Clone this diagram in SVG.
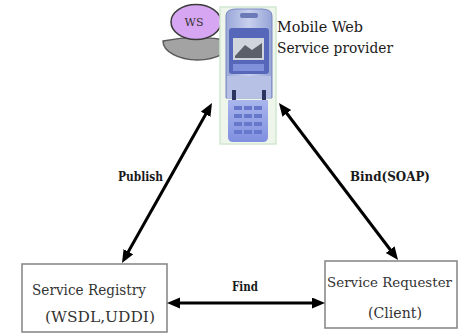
<svg xmlns="http://www.w3.org/2000/svg" width="458" height="333" viewBox="0 0 458 333">
  <style>
    text { font-family: "DejaVu Serif", "Liberation Serif", serif; }
    .lbl { fill: #1a1a1a; }
    .boxlbl { fill: #333; }
    .edge { stroke: #000; stroke-width: 3; fill: none; marker-start: url(#head); marker-end: url(#head); }
    .box { fill: #fff; stroke: #8a8a8a; stroke-width: 1.6; }
  </style>
  <defs>
    <marker id="head" markerUnits="userSpaceOnUse" markerWidth="14" markerHeight="12" refX="3" refY="5.5" orient="auto-start-reverse">
      <path d="M0,0 L13,5.5 L0,11 z" fill="#000"/>
    </marker>
    <linearGradient id="body" x1="0" y1="0" x2="1" y2="0">
      <stop offset="0" stop-color="#9aa8d8"/>
      <stop offset="0.5" stop-color="#c8d0ee"/>
      <stop offset="1" stop-color="#95a3d6"/>
    </linearGradient>
    <linearGradient id="keys" x1="0" y1="0" x2="0" y2="1">
      <stop offset="0" stop-color="#aab6ec"/>
      <stop offset="1" stop-color="#7f8fe0"/>
    </linearGradient>
  </defs>

  <!-- Mobile Web Service provider -->
  <g id="provider">
    <!-- WS disc on its plate -->
    <path d="M163,41 Q197,34 232,41 A34.5,19 0 0 1 163,41 z" fill="#a3a3a3" stroke="#5a5a5a" stroke-width="1.5"/>
    <ellipse cx="196" cy="22" rx="25" ry="17.5" fill="#d6a6f2" stroke="#3a3a3a" stroke-width="1.5"/>
    <text x="194" y="26" font-size="11" text-anchor="middle" fill="#333">WS</text>

    <!-- handset -->
    <rect x="220" y="7" width="56" height="137" fill="#eef6ec" stroke="#d2e8cf" stroke-width="1.5"/>
    <path d="M226,16 Q226,9 236,9 L262,9 Q272,9 272,16 L272,98 L226,98 z" fill="url(#body)" stroke="#7886c2" stroke-width="1"/>
    <rect x="240" y="13" width="18" height="5" rx="2" fill="#6c7ab8"/>
    <rect x="229" y="28" width="40" height="46" rx="3" fill="#5666b8"/>
    <rect x="233" y="38" width="31" height="22" fill="#d0d4dc"/>
    <path d="M235,56 L245,45 L252,50 L262,43 L262,58 L235,58 z" fill="#5a5f6a"/>
    <rect x="233" y="64" width="31" height="7" fill="#8190da"/>
    <rect x="227" y="76" width="44" height="22" fill="#b7c1e6"/>
    <rect x="232" y="90" width="4" height="10" fill="#2c3560"/>
    <rect x="262" y="90" width="4" height="10" fill="#2c3560"/>
    <path d="M228,100 L268,100 L268,137 Q268,142 263,142 L233,142 Q228,142 228,137 z" fill="url(#keys)"/>
    <g fill="#6677cc">
      <rect x="234" y="106" width="8" height="4"/><rect x="244" y="106" width="8" height="4"/><rect x="254" y="106" width="8" height="4"/>
      <rect x="234" y="114" width="8" height="4"/><rect x="244" y="114" width="8" height="4"/><rect x="254" y="114" width="8" height="4"/>
      <rect x="234" y="122" width="8" height="4"/><rect x="244" y="122" width="8" height="4"/><rect x="254" y="122" width="8" height="4"/>
      <rect x="234" y="130" width="8" height="4"/><rect x="244" y="130" width="8" height="4"/><rect x="254" y="130" width="8" height="4"/>
    </g>

    <text class="lbl" x="277" y="32" font-size="14" textLength="86" lengthAdjust="spacingAndGlyphs">Mobile Web</text>
    <text class="lbl" x="277" y="53" font-size="14" textLength="116" lengthAdjust="spacingAndGlyphs">Service provider</text>
  </g>

  <!-- Service Registry -->
  <g id="registry">
    <rect class="box" x="22" y="264" width="145" height="68"/>
    <text class="boxlbl" x="32" y="295" font-size="15" textLength="114" lengthAdjust="spacingAndGlyphs">Service Registry</text>
    <text class="boxlbl" x="45" y="322" font-size="15" textLength="110" lengthAdjust="spacingAndGlyphs">(WSDL,UDDI)</text>
  </g>

  <!-- Service Requester -->
  <g id="requester">
    <rect class="box" x="325" y="261" width="132" height="67"/>
    <text class="boxlbl" x="327" y="287" font-size="12.5" textLength="125" lengthAdjust="spacingAndGlyphs">Service Requester</text>
    <text class="boxlbl" x="368" y="318" font-size="15" textLength="54" lengthAdjust="spacingAndGlyphs">(Client)</text>
  </g>

  <!-- connectors -->
  <g id="connectors">
    <line class="edge" x1="126.9" y1="254.3" x2="207.1" y2="111.7"/>
    <line class="edge" x1="285" y1="111" x2="392" y2="252"/>
    <line class="edge" x1="177" y1="303" x2="315" y2="303"/>
    <text class="lbl" x="118" y="181" font-size="13" font-weight="bold" textLength="45" lengthAdjust="spacingAndGlyphs">Publish</text>
    <text class="lbl" x="350" y="181" font-size="13" font-weight="bold" textLength="80" lengthAdjust="spacingAndGlyphs">Bind(SOAP)</text>
    <text class="lbl" x="232" y="291" font-size="13" font-weight="bold" textLength="26" lengthAdjust="spacingAndGlyphs">Find</text>
  </g>
</svg>
